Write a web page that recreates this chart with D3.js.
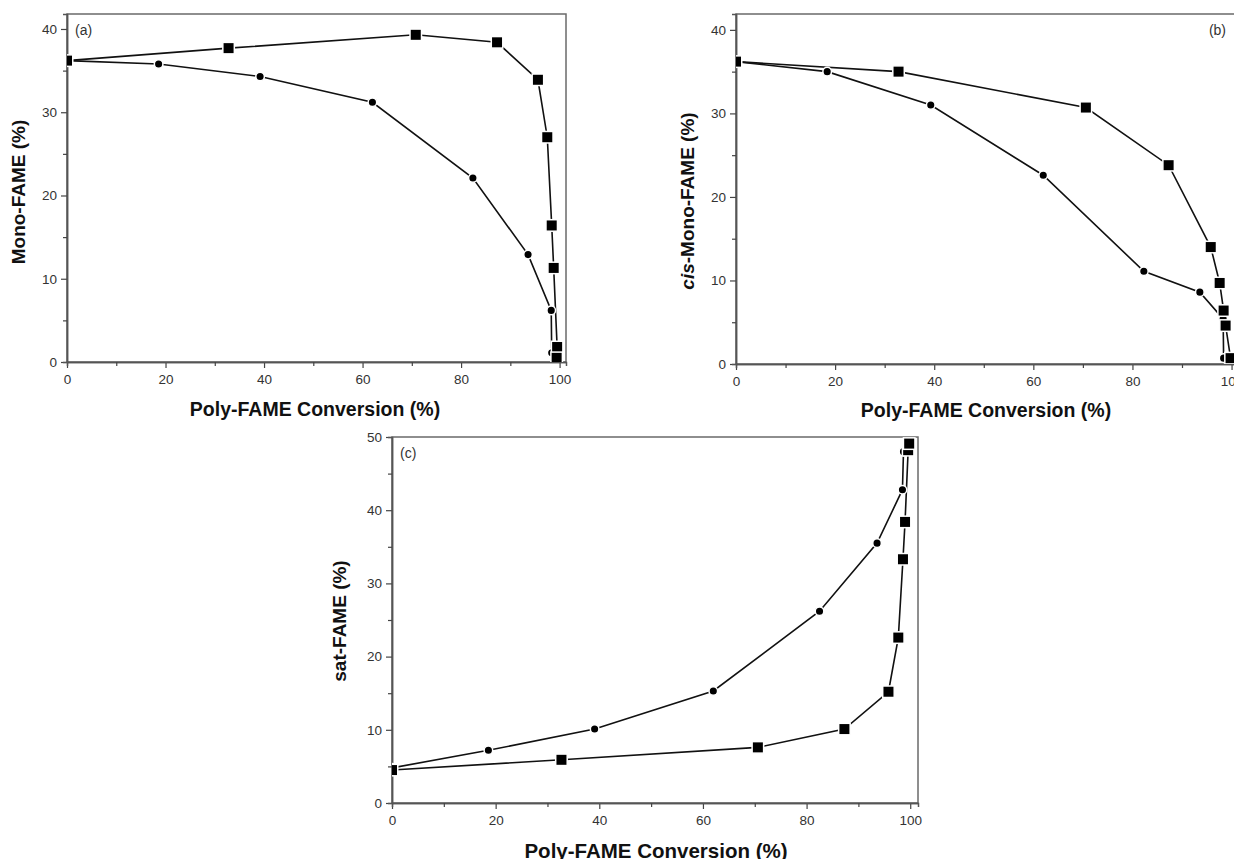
<!DOCTYPE html>
<html>
<head>
<meta charset="utf-8">
<script src="https://cdn.jsdelivr.net/npm/d3@7"></script>
<style>
  body { margin: 0; background: #fff; }
  text { font-family: "Liberation Sans", Arial, sans-serif; }
  .tick text { fill: #333; font-size: 13.5px; }
  .axis-title { font-weight: bold; fill: #111; }
</style>
</head>
<body>
<svg id="chart" width="1234" height="859"></svg>
<script>
// conversion axis ticks
const xMajor = [0, 20, 40, 60, 80, 100];
const xMinor = [10, 30, 50, 70, 90];

// panel (a) Mono-FAME
const aSquareX = [0, 32.8, 70.8, 87.3, 95.6, 97.5, 98.4, 98.8, 99.5, 99.4];
const aSquareY = [36.2, 37.7, 39.3, 38.4, 33.9, 27.0, 16.4, 11.3, 1.8, 0.5];
const aCircleX = [0, 18.6, 39.2, 62.0, 82.4, 93.6, 98.3, 98.4];
const aCircleY = [36.2, 35.8, 34.3, 31.2, 22.1, 12.9, 6.2, 1.1];
const aYMajor = [0, 10, 20, 30, 40];
const aYMinor = [5, 15, 25, 35];

// panel (b) cis-Mono-FAME
const bSquareX = [0, 32.8, 70.6, 87.3, 95.8, 97.6, 98.4, 98.8, 99.8];
const bSquareY = [36.2, 35.0, 30.7, 23.8, 14.0, 9.7, 6.4, 4.6, 0.7];
const bCircleX = [0, 18.4, 39.3, 62.0, 82.3, 93.6, 98.3, 98.4];
const bCircleY = [36.2, 35.0, 31.0, 22.6, 11.1, 8.6, 5.4, 0.7];
const bYMajor = [0, 10, 20, 30, 40];
const bYMinor = [5, 15, 25, 35];

// panel (c) sat-FAME
const cSquareX = [0, 32.7, 70.6, 87.3, 95.8, 97.7, 98.6, 99.0, 99.6, 99.8];
const cSquareY = [4.5, 5.9, 7.6, 10.1, 15.2, 22.6, 33.3, 38.4, 48.2, 49.1];
const cCircleX = [0, 18.6, 39.1, 62.0, 82.5, 93.6, 98.5, 98.7];
const cCircleY = [4.8, 7.2, 10.1, 15.3, 26.2, 35.5, 42.8, 48.0];
const cYMajor = [0, 10, 20, 30, 40, 50];
const cYMinor = [5, 15, 25, 35, 45];

const svg = d3.select("#chart");
svg.append("rect").attr("width", 1234).attr("height", 859).attr("fill", "#fff");

function zip(xs, ys) {
  return xs.map((x, i) => [x, ys[i]]);
}

function drawPanel(p) {
  const w = p.right - p.left, h = p.bottom - p.top;
  const x = d3.scaleLinear().domain(p.xDomain).range([0, w]);
  const y = d3.scaleLinear().domain(p.yDomain).range([h, 0]);

  const g = svg.append("g").attr("transform", `translate(${p.left},${p.top})`);

  g.append("clipPath").attr("id", "clip-" + p.id)
    .append("rect").attr("width", w).attr("height", h);

  // frame
  g.append("rect")
    .attr("width", w).attr("height", h)
    .attr("fill", "none").attr("stroke", "#6a6a6a").attr("stroke-width", 1.5);

  // x axis major + minor
  g.append("g").attr("transform", `translate(0,${h})`)
    .call(d3.axisBottom(x).tickValues(xMajor).tickSize(6).tickSizeOuter(0).tickPadding(6));
  g.append("g").attr("transform", `translate(0,${h})`)
    .call(d3.axisBottom(x).tickValues(xMinor).tickSize(4).tickFormat(""));

  // y axis major + minor
  g.append("g")
    .call(d3.axisLeft(y).tickValues(p.yMajor).tickSize(6).tickSizeOuter(0).tickPadding(4));
  g.append("g")
    .call(d3.axisLeft(y).tickValues(p.yMinor).tickSize(4).tickFormat(""));

  g.selectAll(".domain").attr("stroke", "#555").attr("stroke-width", 1.5);
  g.selectAll(".tick line").attr("stroke", "#444").attr("stroke-width", 1.2);

  const plot = g.append("g").attr("clip-path", `url(#clip-${p.id})`);
  const line = d3.line().x(d => x(d[0])).y(d => y(d[1]));

  const sq = zip(p.sqX, p.sqY), ci = zip(p.ciX, p.ciY);

  [sq, ci].forEach(pts => {
    plot.append("path").datum(pts)
      .attr("d", line)
      .attr("fill", "none").attr("stroke", "#111").attr("stroke-width", 1.6);
  });

  plot.selectAll("circle.ci").data(ci).join("circle")
    .attr("class", "ci")
    .attr("cx", d => x(d[0])).attr("cy", d => y(d[1]))
    .attr("r", 4.3)
    .attr("fill", "#000").attr("stroke", "#fff").attr("stroke-width", 1.5);

  const sqSize = 11.5;
  plot.selectAll("rect.sq").data(sq).join("rect")
    .attr("class", "sq")
    .attr("x", d => x(d[0]) - sqSize / 2)
    .attr("y", d => y(d[1]) - sqSize / 2)
    .attr("width", sqSize).attr("height", sqSize)
    .attr("fill", "#000").attr("stroke", "#fff").attr("stroke-width", 1.5);

  // panel letter
  g.append("text")
    .attr("x", p.tagX).attr("y", 21)
    .attr("text-anchor", p.tagAnchor)
    .attr("font-size", 14).attr("fill", "#333")
    .text(p.tag);

  // x title
  g.append("text").attr("class", "axis-title")
    .attr("font-size", p.xTitleSize)
    .attr("x", p.xTitleX).attr("y", h + p.xTitleDy)
    .attr("text-anchor", "middle")
    .text("Poly-FAME Conversion (%)");

  // y title
  const yt = g.append("text").attr("class", "axis-title")
    .attr("font-size", 19)
    .attr("transform", `translate(${p.yTitleDx},${p.yTitleY}) rotate(-90)`)
    .attr("text-anchor", "middle");
  p.yTitle.forEach(part => {
    yt.append("tspan").attr("font-style", part.italic ? "italic" : "normal").text(part.t);
  });
}

drawPanel({
  id: "a", left: 67, right: 566, top: 14, bottom: 362,
  xDomain: [0, 101.3], yDomain: [0, 41.8],
  yMajor: aYMajor, yMinor: aYMinor,
  sqX: aSquareX, sqY: aSquareY, ciX: aCircleX, ciY: aCircleY,
  tag: "(a)", tagX: 8, tagAnchor: "start",
  xTitleX: 248, xTitleDy: 54, xTitleSize: 19.5,
  yTitleDx: -42, yTitleY: 178,
  yTitle: [{t: "Mono-FAME (%)"}]
});

drawPanel({
  id: "b", left: 736, right: 1238, top: 14, bottom: 364,
  xDomain: [0, 101.3], yDomain: [0, 41.9],
  yMajor: bYMajor, yMinor: bYMinor,
  sqX: bSquareX, sqY: bSquareY, ciX: bCircleX, ciY: bCircleY,
  tag: "(b)", tagX: 490, tagAnchor: "end",
  xTitleX: 250, xTitleDy: 53, xTitleSize: 19.5,
  yTitleDx: -42, yTitleY: 187,
  yTitle: [{t: "cis", italic: true}, {t: "-Mono-FAME (%)"}]
});

drawPanel({
  id: "c", left: 392, right: 918, top: 437, bottom: 803,
  xDomain: [0, 101.5], yDomain: [0, 50],
  yMajor: cYMajor, yMinor: cYMinor,
  sqX: cSquareX, sqY: cSquareY, ciX: cCircleX, ciY: cCircleY,
  tag: "(c)", tagX: 8, tagAnchor: "start",
  xTitleX: 264, xTitleDy: 55, xTitleSize: 20.5,
  yTitleDx: -46, yTitleY: 184,
  yTitle: [{t: "sat-FAME (%)"}]
});
</script>
</body>
</html>
